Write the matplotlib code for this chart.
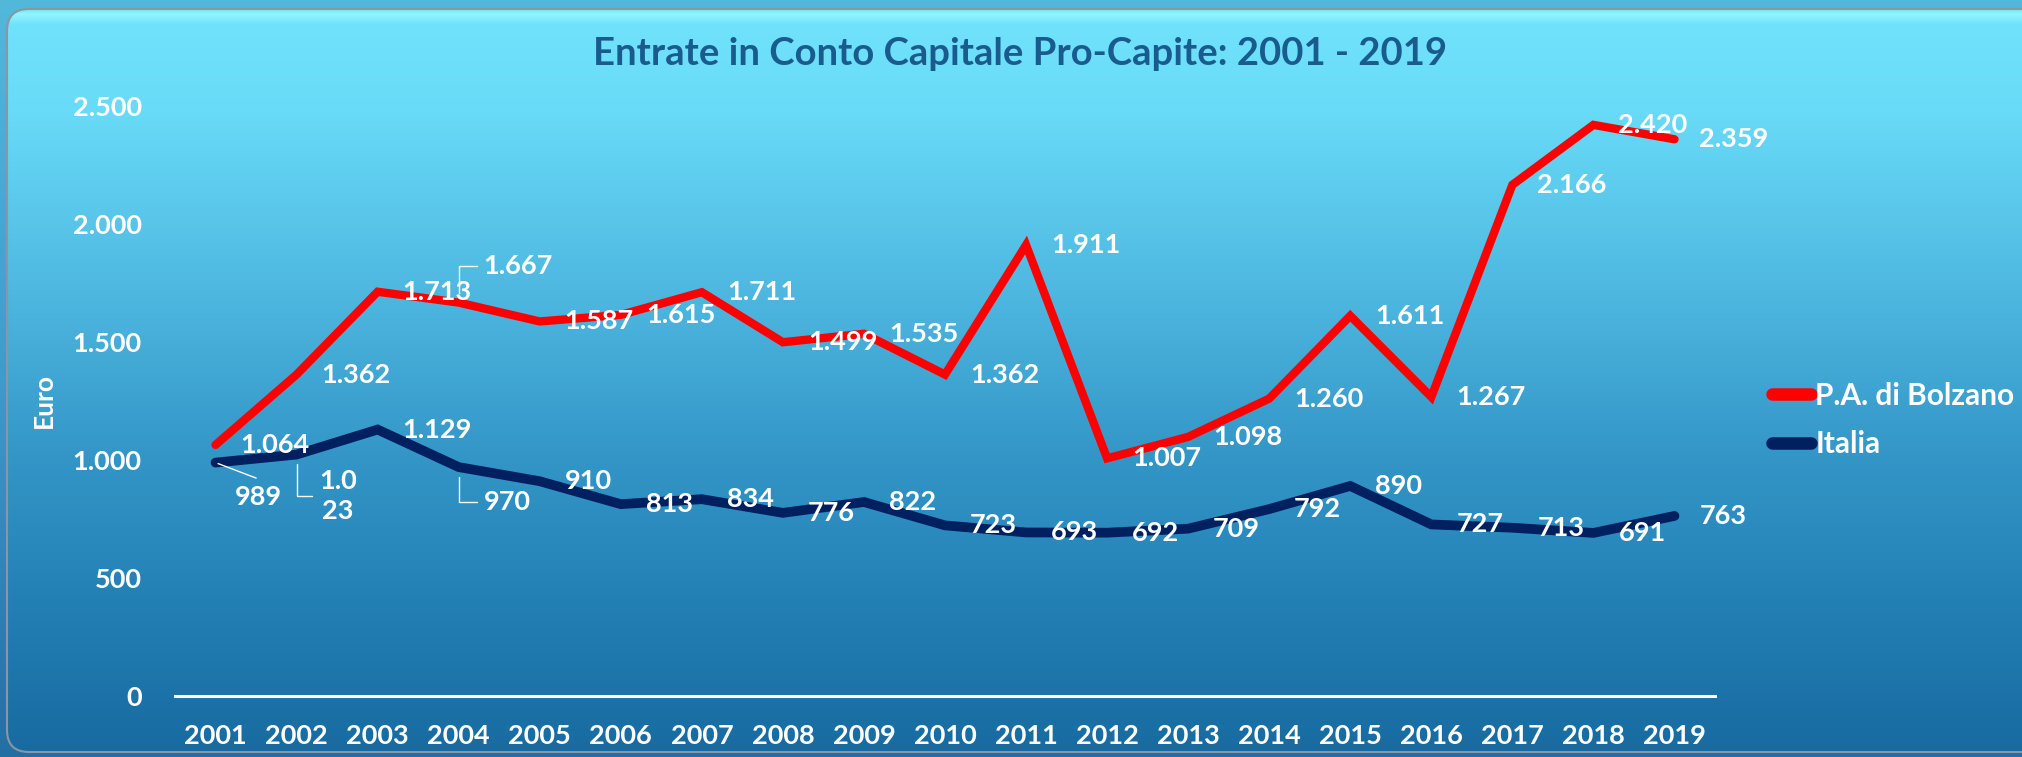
import numpy as np
import matplotlib
matplotlib.use("Agg")
import matplotlib.pyplot as plt
from matplotlib.patches import FancyBboxPatch
from matplotlib.colors import to_rgb
from matplotlib.lines import Line2D

years = [str(y) for y in range(2001, 2020)]
bolzano = [1064, 1362, 1713, 1667, 1587, 1615, 1711, 1499, 1535, 1362,
           1911, 1007, 1098, 1260, 1611, 1267, 2166, 2420, 2359]
italia = [989, 1023, 1129, 970, 910, 813, 834, 776, 822, 723,
          693, 692, 709, 792, 890, 727, 713, 691, 763]
yticks = [0, 500, 1000, 1500, 2000, 2500]

plt.rcParams['font.family'] = ['Lato', 'DejaVu Sans']
plt.rcParams['font.weight'] = 'bold'

W, H = 2022, 757
fig = plt.figure(figsize=(W / 100, H / 100), dpi=100)


def vgrad(stops):
    ys = np.arange(H)
    pos = [s[0] for s in stops]
    cols = np.array([to_rgb(s[1]) for s in stops])
    img = np.stack([np.interp(ys, pos, cols[:, k]) for k in range(3)], axis=-1)
    return img[:, None, :]


# background + rounded panel
bg = fig.add_axes([0, 0, 1, 1], zorder=0)
bg.set_xlim(0, W)
bg.set_ylim(H, 0)
bg.axis('off')
bg.imshow(vgrad([(0, '#52b9da'), (380, '#3c9ccb'), (757, '#236fa3')]),
          extent=[0, W, H, 0], aspect='auto')
r = 22
panel = FancyBboxPatch((7 + r, 9 + r), W + 40 - 2 * r, 743 - 2 * r,
                       boxstyle=f'round,pad={r}', facecolor='none',
                       edgecolor='#8a96a3', lw=1.5, zorder=3)
bg.add_patch(panel)
im = bg.imshow(vgrad([(9, '#7fe6f6'), (14, '#92f4ff'), (24, '#70e2fb'),
                      (110, '#68dbf8'), (300, '#4db6df'), (450, '#3497c8'),
                      (600, '#2380b5'), (757, '#176aa0')]),
               extent=[0, W, H, 0], aspect='auto', zorder=2)
im.set_clip_path(panel)

# chart
ax = fig.add_axes([175 / W, 1 - 696 / H, 1540 / W, 590 / H], zorder=1)
ax.set_facecolor('none')
x = np.arange(len(years))
ax.plot(x, bolzano, color='#ff0000', lw=6, solid_capstyle='round',
        solid_joinstyle='miter', clip_on=False, zorder=3)
ax.plot(x, italia, color='#002060', lw=7, solid_capstyle='round',
        solid_joinstyle='miter', clip_on=False, zorder=2)

ax.set_xlim(-0.5, len(years) - 0.5)
ax.set_ylim(0, 2500)
ax.set_xticks(x)
ax.set_xticklabels(years)
ax.set_yticks(yticks)
ax.set_yticklabels([f'{v:,}'.replace(',', '.') for v in yticks])
ax.tick_params(length=0, labelsize=19.5, colors='white')
ax.tick_params(axis='x', pad=20)
ax.tick_params(axis='y', pad=24)
for s in ['left', 'right', 'top']:
    ax.spines[s].set_visible(False)
ax.spines['bottom'].set_color('white')
ax.spines['bottom'].set_linewidth(2.2)

ax.set_ylabel('Euro', fontsize=19, fontweight='bold', color='white')
ax.yaxis.set_label_coords((56 - 175) / 1540, 0.50)


def fmt(v):
    return f'{v:,}'.replace(',', '.')


lab_kw = dict(color='white', fontsize=19.5, fontweight='bold', va='center',
              ha='left', textcoords='offset points', zorder=5,
              annotation_clip=False)
leader_L = dict(arrowstyle='-', color='white', lw=1,
                connectionstyle='angle,angleA=0,angleB=90', relpos=(0, 0.5),
                shrinkA=3, shrinkB=7)

for i, v in enumerate(bolzano):
    if i == 3:
        ax.annotate(fmt(v), (i, v), xytext=(18, 26),
                    arrowprops=leader_L, **lab_kw)
    else:
        ax.annotate(fmt(v), (i, v), xytext=(18, 0), **lab_kw)

for i, v in enumerate(italia):
    if i == 0:
        ax.annotate(fmt(v), (i, v), xytext=(14, -25),
                    arrowprops=dict(arrowstyle='-', color='white', lw=1,
                                    relpos=(0.45, 1.3), shrinkA=0, shrinkB=2),
                    **lab_kw)
    elif i == 1:
        s = fmt(v)
        ax.annotate(s[:3] + '\n' + s[3:], (i, v), xytext=(16, -30),
                    multialignment='center', linespacing=1.3,
                    arrowprops=leader_L, **lab_kw)
    elif i == 3:
        ax.annotate(fmt(v), (i, v), xytext=(18, -25),
                    arrowprops=leader_L, **lab_kw)
    else:
        ax.annotate(fmt(v), (i, v), xytext=(18, 0), **lab_kw)

fig.text(1020 / W, 1 - 54 / H, 'Entrate in Conto Capitale Pro-Capite: 2001 - 2019',
         ha='center', va='center', fontsize=27.5, fontweight='bold',
         color='#1a5b8e')

handles = [Line2D([], [], color='#ff0000', lw=9, solid_capstyle='round'),
           Line2D([], [], color='#002060', lw=9, solid_capstyle='round')]
fig.legend(handles, ['P.A. di Bolzano', 'Italia'], loc='center left',
           bbox_to_anchor=(1745 / W, 1 - 420 / H), frameon=False,
           fontsize=21.5, labelcolor='white', handlelength=1.3,
           handletextpad=0.15, labelspacing=0.7)

fig.savefig('out.png', dpi=100)
